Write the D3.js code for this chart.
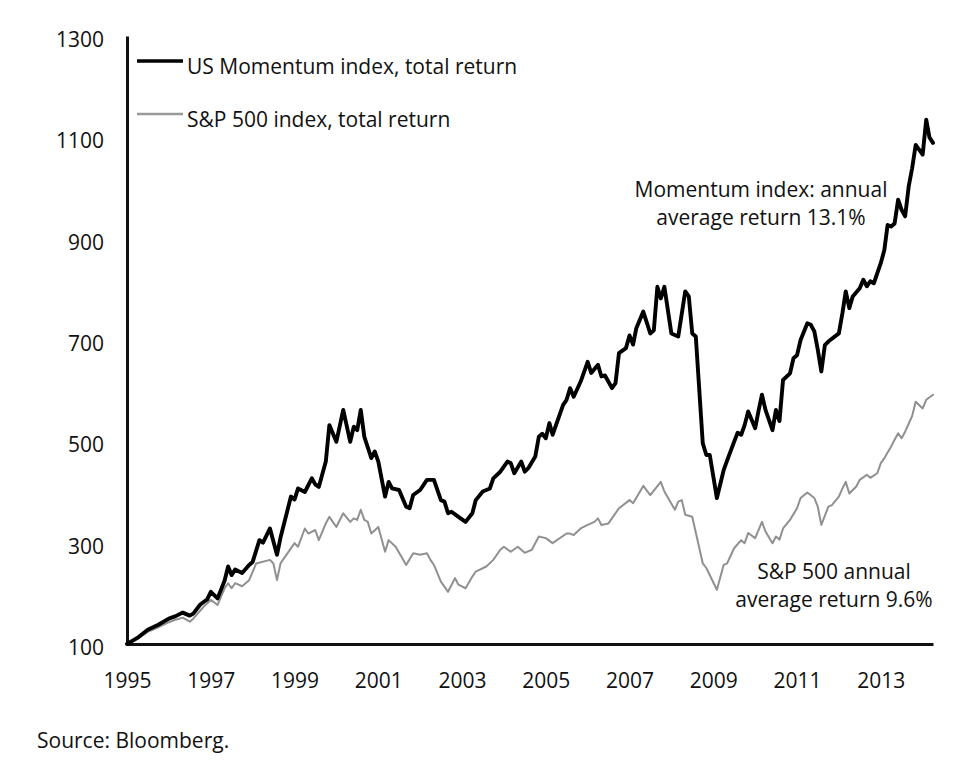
<!DOCTYPE html>
<html>
  <body>
    <script src="https://cdn.jsdelivr.net/npm/d3@7"></script>
    <style>
      body{ margin: 0; background: #fff; font-family: "Open Sans", sans-serif;}
      svg text{ fill: #111; font-size: 21px; font-weight: 500;}
      .axis path, .axis line{ stroke: #111;}
      .line{ fill: none; stroke-linejoin: round; stroke-linecap: round;}
      .momentum{ stroke: #000; stroke-width: 3.9;}
      .spx{ stroke: #909090; stroke-width: 2;}
    </style>
    <script>
// readings, month and index level (1995 = 100)
var momDates = ['1995-01','1995-04','1995-07','1995-10','1996-01','1996-03','1996-05','1996-07','1996-08','1996-10','1996-12',
  '1997-01','1997-03','1997-05','1997-06','1997-07','1997-08','1997-10','1997-12','1998-01','1998-03','1998-04','1998-06',
  '1998-08','1998-09','1998-12','1999-01','1999-02','1999-04','1999-06','1999-07','1999-08','1999-10','1999-11','2000-01',
  '2000-03','2000-05','2000-06','2000-07','2000-08','2000-09','2000-11','2000-12','2001-01','2001-03','2001-04','2001-05',
  '2001-07','2001-09','2001-10','2001-11','2002-01','2002-03','2002-05','2002-07','2002-08','2002-09','2002-10','2002-12',
  '2003-02','2003-04','2003-05','2003-07','2003-09','2003-10','2003-12','2004-02','2004-03','2004-04','2004-06','2004-07',
  '2004-08','2004-10','2004-11','2004-12','2005-01','2005-02','2005-03','2005-06','2005-07','2005-08','2005-09','2005-11',
  '2006-01','2006-02','2006-04','2006-05','2006-06','2006-08','2006-09','2006-10','2006-12','2007-01','2007-02','2007-03',
  '2007-05','2007-07','2007-08','2007-09','2007-10','2007-11','2008-01','2008-03','2008-05','2008-06','2008-07','2008-08',
  '2008-10','2008-11','2008-12','2009-02','2009-04','2009-05','2009-07','2009-08','2009-09','2009-10','2009-11','2010-01',
  '2010-02','2010-03','2010-04','2010-06','2010-07','2010-08','2010-09','2010-11','2010-12','2011-01','2011-02','2011-04',
  '2011-05','2011-06','2011-07','2011-08','2011-09','2011-10','2012-01','2012-02','2012-03','2012-04','2012-05','2012-07',
  '2012-08','2012-09','2012-10','2012-11','2013-01','2013-02','2013-03','2013-04','2013-05','2013-06','2013-07','2013-08',
  '2013-09','2013-10','2013-11','2014-01','2014-02','2014-03','2014-04']
var momValues = [100,112,128,138,150,155,162,156,160,178,188,
  203,190,225,253,236,247,240,256,262,305,300,328,
  276,310,391,385,407,400,427,415,410,460,532,499,
  562,499,529,522,562,509,467,480,460,391,420,407,
  404,371,368,394,404,424,424,384,381,358,361,351,
  341,358,384,401,407,427,440,460,457,437,460,440,
  447,470,509,515,506,536,513,572,582,605,588,618,
  657,635,651,628,630,605,615,674,684,709,691,723,
  756,713,719,805,782,805,713,707,796,786,713,707,
  496,473,473,388,443,462,499,517,513,532,559,526,
  562,592,562,522,562,540,621,634,664,670,700,733,
  730,717,681,638,690,697,713,753,796,763,786,802,
  819,806,816,812,852,878,927,924,930,977,957,944,
  1003,1039,1085,1066,1135,1100,1089]

var spxDates = ['1995-01','1995-04','1995-07','1995-10','1996-01','1996-03','1996-05','1996-07','1996-08','1996-11','1997-01',
  '1997-03','1997-05','1997-06','1997-07','1997-08','1997-10','1997-12','1998-02','1998-06','1998-07','1998-08','1998-09',
  '1999-01','1999-02','1999-04','1999-05','1999-07','1999-08','1999-10','1999-11','2000-01','2000-03','2000-05','2000-06',
  '2000-07','2000-08','2000-09','2000-10','2000-11','2001-01','2001-03','2001-04','2001-06','2001-09','2001-11','2002-01',
  '2002-03','2002-04','2002-05','2002-07','2002-09','2002-11','2002-12','2003-02','2003-04','2003-05','2003-08','2003-10',
  '2003-12','2004-01','2004-03','2004-05','2004-07','2004-09','2004-11','2005-01','2005-03','2005-07','2005-08','2005-09',
  '2005-11','2006-01','2006-03','2006-04','2006-05','2006-07','2006-10','2007-01','2007-02','2007-05','2007-07','2007-10',
  '2007-11','2008-02','2008-03','2008-04','2008-05','2008-07','2008-10','2008-11','2009-02','2009-04','2009-05','2009-07',
  '2009-09','2009-10','2009-11','2010-01','2010-03','2010-04','2010-06','2010-07','2010-08','2010-09','2010-11','2011-01',
  '2011-02','2011-04','2011-06','2011-07','2011-08','2011-10','2011-11','2012-01','2012-02','2012-03','2012-04','2012-06',
  '2012-07','2012-09','2012-10','2012-12','2013-01','2013-02','2013-04','2013-05','2013-06','2013-07','2013-08','2013-10',
  '2013-11','2014-01','2014-02','2014-04']
var spxValues = [100,110,124,133,143,148,152,144,150,174,187,
  177,210,220,210,220,214,226,259,266,259,226,259,
  299,292,328,318,325,305,338,351,331,358,341,348,
  345,365,345,341,318,331,282,305,292,256,279,276,
  279,266,256,223,203,230,217,210,233,243,253,266,
  286,292,282,292,280,286,312,309,299,318,318,315,
  328,335,341,348,335,338,368,384,378,412,394,420,
  401,365,381,384,355,351,259,250,207,256,259,289,
  305,299,319,309,341,322,299,312,306,328,345,368,
  388,399,388,371,335,371,374,391,407,420,397,411,
  424,434,428,437,457,467,490,503,516,506,519,550,
  578,565,582,592]

var yTicks = [100, 300, 500, 700, 900, 1100, 1300]
var xTicks = [1995, 1997, 1999, 2001, 2003, 2005, 2007, 2009, 2011, 2013]
var legendLabels = ['US Momentum index, total return', 'S&P 500 index, total return']

var width = 968, height = 770
  , margin = {top: 36, right: 35, bottom: 126, left: 127}
  , parse = d3.timeParse('%Y-%m')
  , svg = d3.select('body').append('svg').attr('width', width).attr('height', height)

var x = d3.scaleTime()
  .domain([parse('1995-01'), parse('2014-04')])
  .range([margin.left, width - margin.right])
var y = d3.scaleLinear()
  .domain([100, 1300])
  .range([height - margin.bottom, margin.top])

function series(dates, values){
  return dates.map(function(d, i){ return {date: parse(d), value: values[i]} })
}
var line = d3.line()
  .x(function(d){ return x(d.date) })
  .y(function(d){ return y(d.value) })

// axes: only the two black lines, no tick marks
var yAxis = svg.append('g').attr('class', 'axis')
  .attr('transform', 'translate(' + margin.left + ',0)')
  .call(d3.axisLeft(y).tickValues(yTicks).tickSize(0).tickPadding(23).tickFormat(d3.format('d')))
var xAxis = svg.append('g').attr('class', 'axis')
  .attr('transform', 'translate(0,' + (height - margin.bottom) + ')')
  .call(d3.axisBottom(x).tickValues(xTicks.map(function(d){ return new Date(d, 0, 1) }))
    .tickSize(0).tickPadding(29).tickFormat(d3.timeFormat('%Y')))
svg.selectAll('.axis path').attr('stroke-width', 3)
svg.selectAll('.axis text').attr('font-family', '"Open Sans", sans-serif').attr('font-size', 21)
  .attr('font-weight', 500).attr('fill', '#111')
yAxis.selectAll('text').attr('dy', '0.5em')

svg.append('path').datum(series(spxDates, spxValues)).attr('class', 'line spx').attr('d', line)
svg.append('path').datum(series(momDates, momValues)).attr('class', 'line momentum').attr('d', line)

// legend
var legend = svg.append('g').selectAll('g').data(legendLabels).enter().append('g')
  .attr('transform', function(d, i){ return 'translate(137,' + (61 + i * 53) + ')' })
legend.append('line').attr('x1', 0).attr('x2', 46)
  .attr('stroke', function(d, i){ return i ? '#9a9a9a' : '#000' })
  .attr('stroke-width', function(d, i){ return i ? 2.5 : 3.5 })
legend.append('text').attr('x', 50).attr('y', 13).text(function(d){ return d })

// notes
var notes = [
  {lines: ['Momentum index: annual', 'average return 13.1%'], x: 761, y: 197},
  {lines: ['S&P 500 annual', 'average return 9.6%'], x: 834, y: 579}
]
notes.forEach(function(n){
  n.lines.forEach(function(t, i){
    svg.append('text').attr('x', n.x).attr('y', n.y + i * 28).attr('text-anchor', 'middle').text(t)
  })
})

svg.append('text').attr('x', 37).attr('y', 748).text('Source: Bloomberg.')
    </script>
  </body>
</html>
